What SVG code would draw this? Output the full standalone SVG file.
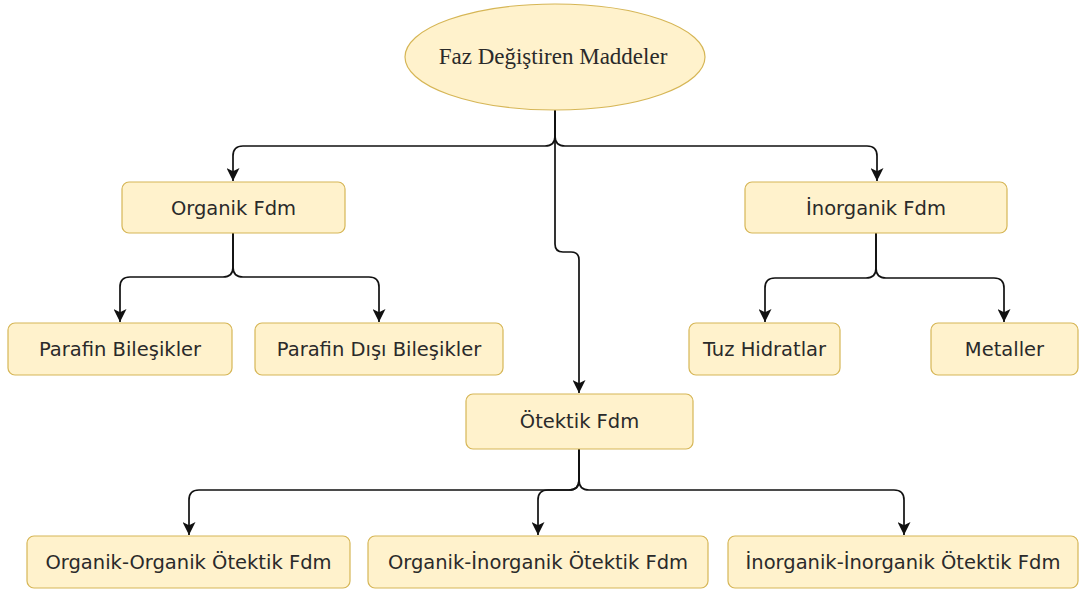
<svg xmlns="http://www.w3.org/2000/svg" width="1080" height="592" viewBox="0 0 1080 592">
<style>
.box{fill:#fff2cc;stroke:#d6b656;stroke-width:1.2}
.t{font-family:"DejaVu Sans",Verdana,sans-serif;font-size:19.5px;fill:#2a2a2a;text-anchor:middle}
.ts{font-family:"Liberation Serif","Times New Roman",serif;font-size:23px;fill:#2a2a2a;text-anchor:middle}
.e{fill:none;stroke:#111;stroke-width:1.7;marker-end:url(#arr)}
</style>
<defs>
<marker id="arr" markerWidth="13" markerHeight="13" refX="10" refY="5" orient="auto" markerUnits="userSpaceOnUse" viewBox="0 0 10 10">
<path d="M0,0 L10,5 L0,10 L2.5,5 Z" fill="#111"/>
</marker>
</defs>
<rect width="1080" height="592" fill="#fff"/>
<g id="connectors">
<path class="e" d="M555,110 V136 Q555,146 545,146 H243 Q233,146 233,156 V181"/>
<path class="e" d="M555,110 V136 Q555,146 565,146 H867 Q877,146 877,156 V181"/>
<path class="e" d="M555,110 V244 Q555,252 563,252 H571 Q579,252 579,260 V393"/>
<path class="e" d="M233,233 V267 Q233,277 223,277 H130 Q120,277 120,287 V322"/>
<path class="e" d="M233,233 V267 Q233,277 243,277 H369 Q379,277 379,287 V322"/>
<path class="e" d="M876,233 V268 Q876,278 866,278 H775 Q765,278 765,288 V322"/>
<path class="e" d="M876,233 V268 Q876,278 886,278 H994 Q1004,278 1004,288 V322"/>
<path class="e" d="M579,449 V480 Q579,490 569,490 H199 Q189,490 189,500 V535"/>
<path class="e" d="M579,449 V480 Q579,490 569,490 H548 Q538,490 538,500 V535"/>
<path class="e" d="M579,449 V480 Q579,490 589,490 H894 Q904,490 904,500 V535"/>
</g>
<g id="root">
<ellipse cx="555" cy="57" rx="150" ry="53" class="box"/>
<text x="553" y="64" class="ts">Faz Değiştiren Maddeler</text>
</g>
<g id="organik">
<rect x="122" y="182" width="223" height="51" rx="7" class="box"/>
<text x="233.5" y="215" class="t">Organik Fdm</text>
</g>
<g id="inorganik">
<rect x="745" y="182" width="262" height="51" rx="7" class="box"/>
<text x="876" y="215" class="t">İnorganik Fdm</text>
</g>
<g id="parafin">
<rect x="8" y="323" width="224" height="52" rx="7" class="box"/>
<text x="120" y="356" class="t">Parafin Bileşikler</text>
</g>
<g id="parafin-disi">
<rect x="255" y="323" width="248" height="52" rx="7" class="box"/>
<text x="379" y="356" class="t">Parafin Dışı Bileşikler</text>
</g>
<g id="tuz">
<rect x="689" y="323" width="151" height="52" rx="7" class="box"/>
<text x="764.5" y="356" class="t">Tuz Hidratlar</text>
</g>
<g id="metaller">
<rect x="931" y="323" width="147" height="52" rx="7" class="box"/>
<text x="1004.5" y="356" class="t">Metaller</text>
</g>
<g id="otektik">
<rect x="466" y="394" width="227" height="55" rx="7" class="box"/>
<text x="579.5" y="428" class="t">Ötektik Fdm</text>
</g>
<g id="oo">
<rect x="27" y="536" width="323" height="52" rx="7" class="box"/>
<text x="188.5" y="569" class="t">Organik-Organik Ötektik Fdm</text>
</g>
<g id="oi">
<rect x="368" y="536" width="340" height="52" rx="7" class="box"/>
<text x="538" y="569" class="t">Organik-İnorganik Ötektik Fdm</text>
</g>
<g id="ii">
<rect x="728" y="536" width="350" height="52" rx="7" class="box"/>
<text x="903" y="569" class="t">İnorganik-İnorganik Ötektik Fdm</text>
</g>
</svg>
